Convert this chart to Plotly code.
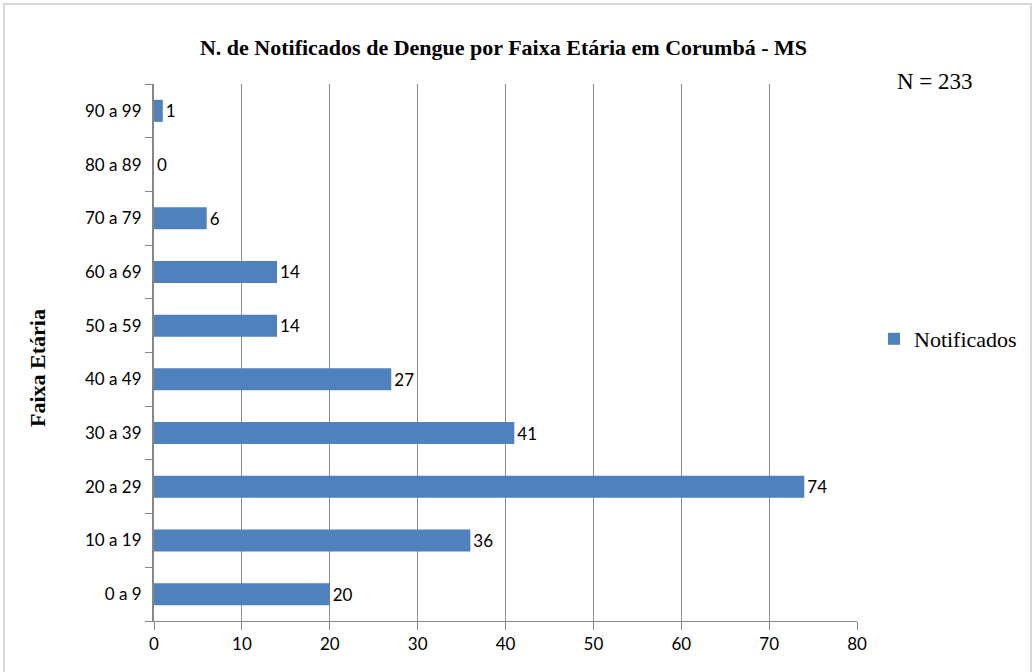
import plotly.graph_objects as go

categories = ["0 a 9", "10 a 19", "20 a 29", "30 a 39", "40 a 49",
              "50 a 59", "60 a 69", "70 a 79", "80 a 89", "90 a 99"]
notificados = [20, 36, 74, 41, 27, 14, 14, 6, 0, 1]
x_ticks = [0, 10, 20, 30, 40, 50, 60, 70, 80]

W, H = 1034, 672
L, R, T, B = 154, 177, 84, 51
pw, ph = W - L - R, H - T - B
SERIF = "Liberation Serif, Times New Roman, serif"
SANS = "Lato, sans-serif"

def px(x):
    return (x - L) / pw

def py(y):
    return (H - B - y) / ph

fig = go.Figure()
fig.add_trace(go.Bar(
    y=categories, x=notificados, orientation="h",
    name="Notificados",
    marker=dict(color="#4f81bd", line=dict(width=0)),
    width=0.41,
    text=[str(v) for v in notificados], textposition="outside",
    textfont=dict(family=SANS, size=17, color="#000000"),
    cliponaxis=False,
))

fig.update_layout(
    width=W, height=H,
    margin=dict(l=L, r=R, t=T, b=B, autoexpand=False),
    paper_bgcolor="white", plot_bgcolor="white",
    title=dict(text="<b>N. de Notificados de Dengue por Faixa Etária em Corumbá - MS</b>",
               x=514 / W, xanchor="center", xref="paper",
               y=1 - 47 / H, yanchor="middle",
               font=dict(family=SERIF, size=22, color="#000")),
    showlegend=True,
    legend=dict(x=px(874), y=py(339), xanchor="left", yanchor="middle",
                font=dict(family=SERIF, size=22, color="#000"),
                itemwidth=30, bgcolor="rgba(0,0,0,0)"),
    xaxis=dict(range=[0, 80], tickvals=x_ticks, showgrid=True, gridcolor="#8c8c8c", gridwidth=1,
               showline=True, linecolor="#868686", linewidth=1, ticks="outside", ticklen=8,
               tickcolor="#868686", zeroline=False, automargin=False,
               tickfont=dict(family=SANS, size=17, color="#000")),
    yaxis=dict(type="category", categoryorder="array", categoryarray=categories,
               showline=True, linecolor="#868686", linewidth=2, ticks="outside", ticklen=7,
               tickcolor="#868686", tickson="boundaries", showgrid=False, automargin=False,
               ticklabelstandoff=7,
               tickfont=dict(family=SANS, size=17, color="#000")),
    bargap=0.59,
)

fig.add_annotation(text="<b>Faixa Etária</b>", xref="paper", yref="paper",
                   x=px(37), y=py(368), xanchor="center", yanchor="middle", showarrow=False,
                   textangle=-90,
                   font=dict(family=SERIF, size=22, color="#000"))

fig.add_annotation(text="N = 233", xref="paper", yref="paper",
                   x=px(935), y=py(82), xanchor="center", yanchor="middle", showarrow=False,
                   font=dict(family=SERIF, size=23, color="#000"))

fig.add_shape(type="rect", xref="paper", yref="paper",
              x0=px(4), x1=px(1031), y0=py(676), y1=py(4),
              line=dict(color="#d9d9d9", width=2), fillcolor="rgba(0,0,0,0)", layer="below")

fig.write_html("out.html", config={"displayModeBar": False},
               post_script="document.body.style.margin='0px';")
